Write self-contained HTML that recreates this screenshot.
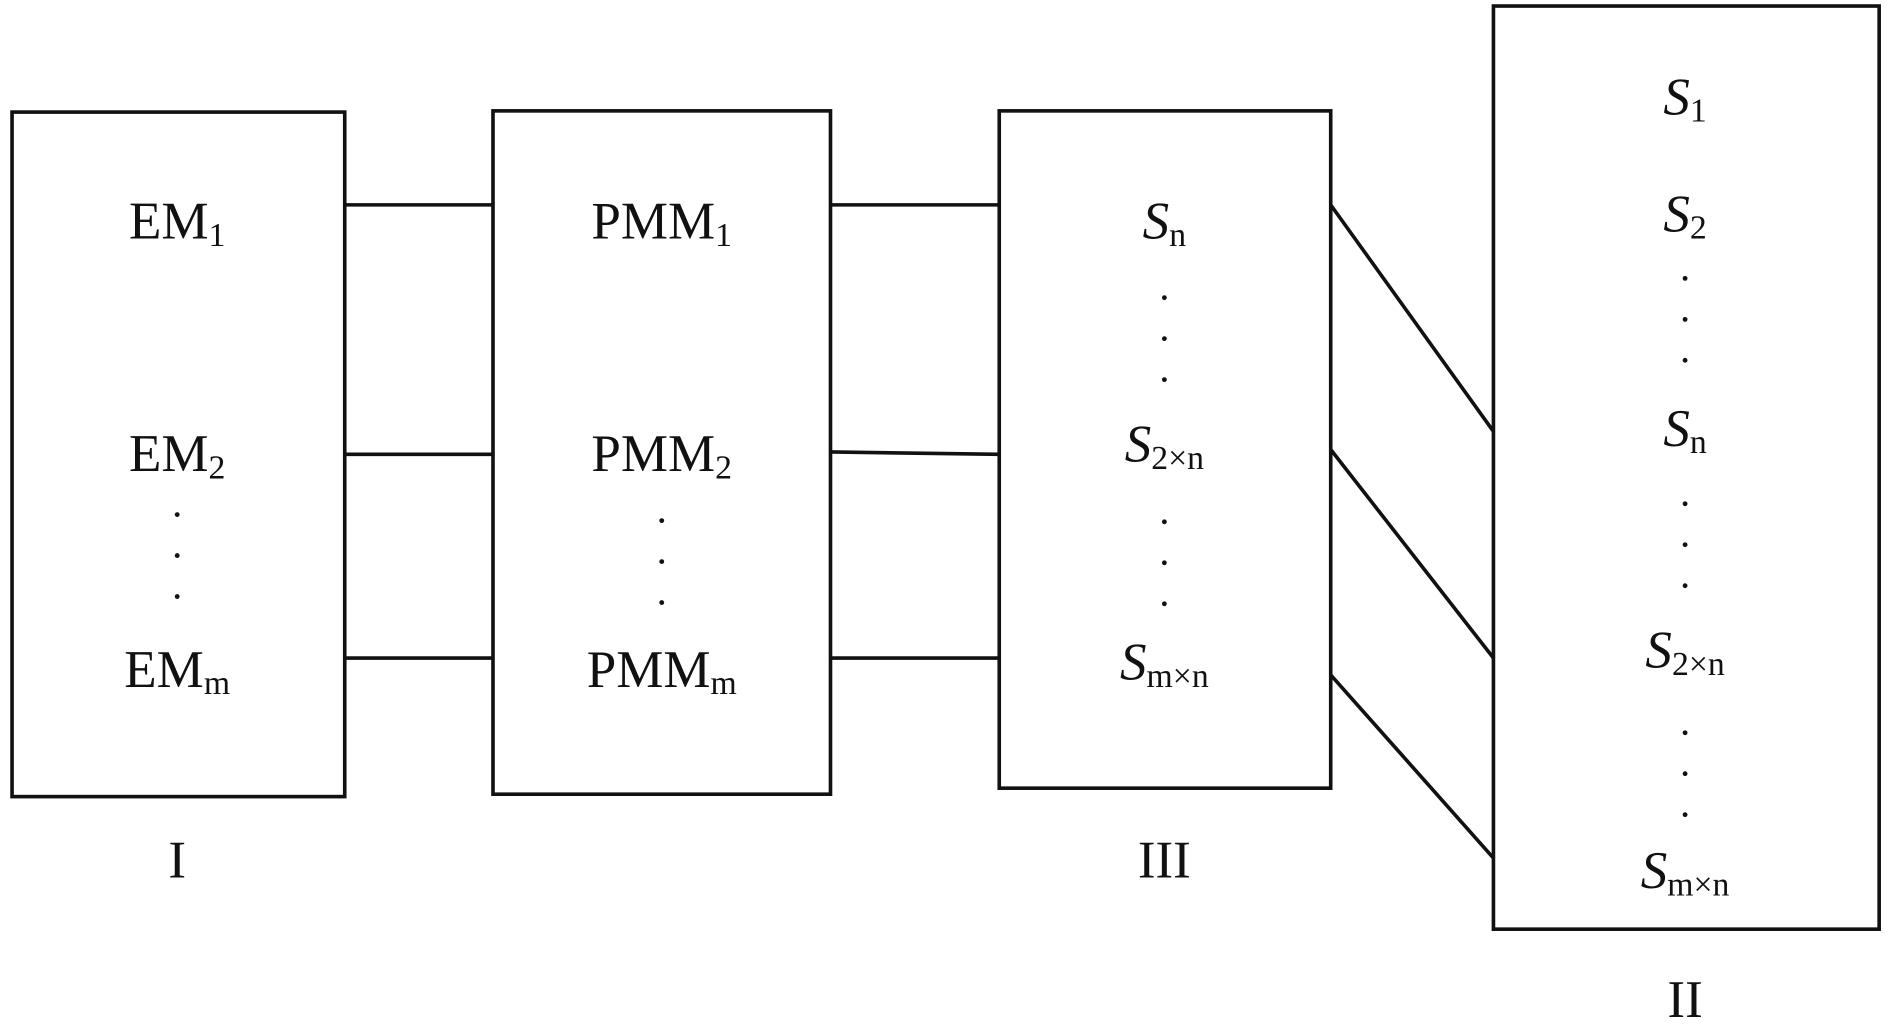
<!DOCTYPE html>
<html><head><meta charset="utf-8"><style>
html,body{margin:0;padding:0;background:#fff;}
svg{display:block;}
text{font-family:"Liberation Serif",serif;fill:#111;}
</style></head><body>
<svg width="1890" height="1028" viewBox="0 0 1568 853" preserveAspectRatio="none" xmlns="http://www.w3.org/2000/svg">
<g fill="none" stroke="#111" stroke-width="3">
<rect x="10" y="93" width="276" height="568"/>
<rect x="409" y="92" width="280" height="567"/>
<rect x="829" y="92" width="275" height="562"/>
<rect x="1239" y="5" width="320" height="766"/>
<line x1="286" y1="170" x2="409" y2="170"/>
<line x1="286" y1="377" x2="409" y2="377"/>
<line x1="286" y1="546" x2="409" y2="546"/>
<line x1="689" y1="170" x2="829" y2="170"/>
<line x1="689" y1="375" x2="829" y2="377"/>
<line x1="689" y1="546" x2="829" y2="546"/>
<line x1="1104" y1="170" x2="1239" y2="358"/>
<line x1="1104" y1="373" x2="1239" y2="546"/>
<line x1="1104" y1="560" x2="1239" y2="712"/>
</g>
<g font-size="44" text-anchor="middle">
<text x="147" y="198">EM<tspan font-size="28" dy="6">1</tspan></text>
<text x="147" y="391">EM<tspan font-size="28" dy="6">2</tspan></text>
<text x="147" y="570">EM<tspan font-size="28" dy="6">m</tspan></text>
<text x="147" y="728">I</text>
<text x="549" y="198">PMM<tspan font-size="28" dy="6">1</tspan></text>
<text x="549" y="391">PMM<tspan font-size="28" dy="6">2</tspan></text>
<text x="549" y="570">PMM<tspan font-size="28" dy="6">m</tspan></text>
<text x="966" y="198"><tspan font-style="italic">S</tspan><tspan font-size="28" dy="6">n</tspan></text>
<text x="966" y="383"><tspan font-style="italic">S</tspan><tspan font-size="28" dy="6">2×n</tspan></text>
<text x="966" y="564"><tspan font-style="italic">S</tspan><tspan font-size="28" dy="6">m×n</tspan></text>
<text x="966" y="728">III</text>
<text x="1398" y="95"><tspan font-style="italic">S</tspan><tspan font-size="28" dy="6">1</tspan></text>
<text x="1398" y="192"><tspan font-style="italic">S</tspan><tspan font-size="28" dy="6">2</tspan></text>
<text x="1398" y="370"><tspan font-style="italic">S</tspan><tspan font-size="28" dy="6">n</tspan></text>
<text x="1398" y="554"><tspan font-style="italic">S</tspan><tspan font-size="28" dy="6">2×n</tspan></text>
<text x="1398" y="737"><tspan font-style="italic">S</tspan><tspan font-size="28" dy="6">m×n</tspan></text>
<text x="1398" y="844">II</text>
</g>
<g fill="#111">
<circle cx="147" cy="427" r="2"/><circle cx="147" cy="461" r="2"/><circle cx="147" cy="495" r="2"/>
<circle cx="549" cy="432" r="2"/><circle cx="549" cy="466" r="2"/><circle cx="549" cy="500" r="2"/>
<circle cx="966" cy="247" r="2"/><circle cx="966" cy="281" r="2"/><circle cx="966" cy="315" r="2"/>
<circle cx="966" cy="433" r="2"/><circle cx="966" cy="467" r="2"/><circle cx="966" cy="501" r="2"/>
<circle cx="1398" cy="231" r="2"/><circle cx="1398" cy="265" r="2"/><circle cx="1398" cy="299" r="2"/>
<circle cx="1398" cy="418" r="2"/><circle cx="1398" cy="452" r="2"/><circle cx="1398" cy="486" r="2"/>
<circle cx="1398" cy="608" r="2"/><circle cx="1398" cy="642" r="2"/><circle cx="1398" cy="676" r="2"/>
</g>
</svg>
</body></html>
